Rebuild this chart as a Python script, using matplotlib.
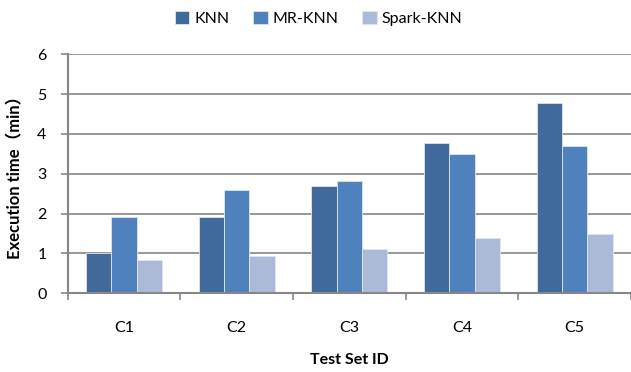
import numpy as np
import matplotlib
matplotlib.use("Agg")
import matplotlib.pyplot as plt

plt.rcParams['font.family'] = ['Lato', 'Noto Sans CJK SC', 'DejaVu Sans']

# Execution time (minutes) per test set
test_sets = ["C1", "C2", "C3", "C4", "C5"]
knn = [1.00, 1.92, 2.69, 3.78, 4.78]
mr_knn = [1.92, 2.59, 2.81, 3.50, 3.69]
spark_knn = [0.83, 0.94, 1.10, 1.39, 1.50]

series = [("KNN", knn, "#3F6A9B"),
          ("MR-KNN", mr_knn, "#4F81BD"),
          ("Spark-KNN", spark_knn, "#AABAD7")]

fig = plt.figure(figsize=(6.31, 3.72), dpi=100)
ax = fig.add_axes([67.5 / 631, 78.7 / 372, (631 - 67.5) / 631, 239 / 372])

x = np.arange(len(test_sets))
w = 0.225
for k, (name, vals, col) in enumerate(series):
    ax.bar(x + (k - 1) * w, vals, w, color=col, edgecolor='#dfe6f0',
           linewidth=0.6, label=name, zorder=3)

ax.set_ylim(0, 6)
ax.set_xlim(-0.5, 4.465)
ax.set_yticks(range(7))
ax.set_xticks(x)
ax.set_xticklabels(test_sets)
ax.set_xticks(np.arange(-0.5, 5, 1), minor=True)

grey = '#868686'
ax.yaxis.grid(True, color=grey, linewidth=1.2, zorder=0)
for s in ['top', 'right']:
    ax.spines[s].set_visible(False)
for s in ['left', 'bottom']:
    ax.spines[s].set_color(grey)
    ax.spines[s].set_linewidth(1.5)
    ax.spines[s].set_zorder(4)

ax.tick_params(axis='x', which='major', length=0, pad=20, labelsize=11.5)
ax.tick_params(axis='x', which='minor', length=5, width=1.2, color=grey)
ax.tick_params(axis='y', length=5, width=1.2, color=grey, pad=10, labelsize=11.5)

ax.set_xlabel("Test Set ID", fontsize=11.5, fontweight='bold', labelpad=13)
ax.set_ylabel("Execution time（min）", fontsize=12, fontweight='bold', labelpad=10)

fig.legend(loc='upper center', bbox_to_anchor=(0.505, 1.01), ncol=3, frameon=False,
           fontsize=11.5, handlelength=0.9, handleheight=0.9, handletextpad=0.3,
           columnspacing=1.5)

fig.savefig("out.png", dpi=100)
